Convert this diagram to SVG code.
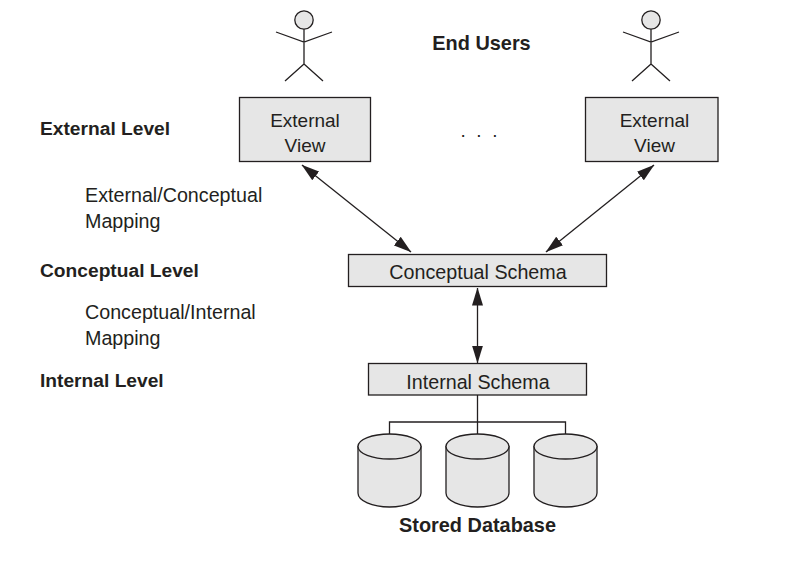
<svg xmlns="http://www.w3.org/2000/svg" width="791" height="565" viewBox="0 0 791 565">
<style>
text{font-family:"Liberation Sans",Arial,sans-serif;fill:#231f20}
.b{font-weight:bold;font-size:19.2px}
.bb{font-weight:bold;font-size:19.9px}
.r{font-size:19.7px}
.v{font-size:19px}
.m{text-anchor:middle}
.box{fill:#e6e6e6;stroke:#231f20;stroke-width:1.3}
.l{fill:none;stroke:#231f20;stroke-width:1.3}
.c{fill:#e6e6e6;stroke:#231f20;stroke-width:1.3}
</style>
<defs>
<marker id="a" viewBox="0 0 18 11" refX="17.5" refY="5.5" markerWidth="18" markerHeight="11" markerUnits="userSpaceOnUse" orient="auto-start-reverse"><path d="M0 0L18 5.5L0 11Z" fill="#231f20"/></marker>
<g id="actor"><path class="l" d="M0 9V44M-28 12L0 22L28 12M0 44L-19 61M0 44L19 61"/><circle cx="0" cy="0" r="9.2" class="c"/></g>
<g id="cyl"><path class="c" d="M-31.5 -17.500V29A31.500 14 0 0 0 31.500 29V-17.500Z"/><ellipse cx="0" cy="-17.500" rx="31.500" ry="12.500" class="c"/></g>
</defs>
<rect width="791" height="565" fill="#fff"/>
<g id="connectors">
<path class="l" marker-start="url(#a)" marker-end="url(#a)" d="M302 165L411 252"/>
<path class="l" marker-start="url(#a)" marker-end="url(#a)" d="M654 165L546 252"/>
<path class="l" marker-start="url(#a)" marker-end="url(#a)" d="M477.5 288V363"/>
<path class="l" d="M477.5 395V434M389.5 434V422H565.5V434"/>
</g>
<g id="user-left"><use href="#actor" x="304" y="20"/></g>
<g id="user-right"><use href="#actor" x="651" y="20"/></g>
<g id="end-users"><text class="bb m" x="481.5" y="50">End Users</text></g>
<g id="external-view-left"><rect class="box" x="239.500" y="97.500" width="131" height="64"/><text class="v m" x="305" y="127">External</text><text class="v m" x="305" y="152">View</text></g>
<g id="dots"><text class="v m" x="479" y="137" style="word-spacing:5.4px">. . .</text></g>
<g id="external-view-right"><rect class="box" x="585.500" y="97.500" width="132.500" height="64"/><text class="v m" x="654.500" y="127">External</text><text class="v m" x="654.500" y="152">View</text></g>
<g id="conceptual-schema"><rect class="box" x="348.500" y="254.500" width="258" height="32"/><text class="r m" x="478" y="279">Conceptual Schema</text></g>
<g id="internal-schema"><rect class="box" x="368.500" y="363.500" width="218" height="31.500"/><text class="r m" x="478" y="389">Internal Schema</text></g>
<g id="db1"><use href="#cyl" x="389.500" y="464"/></g>
<g id="db2"><use href="#cyl" x="477.500" y="464"/></g>
<g id="db3"><use href="#cyl" x="565.500" y="464"/></g>
<g id="stored-database"><text class="bb m" x="477.500" y="532">Stored Database</text></g>
<g id="labels">
<text class="b" x="40" y="135">External Level</text>
<text class="r" x="85" y="202">External/Conceptual</text>
<text class="r" x="85" y="228">Mapping</text>
<text class="b" x="40" y="277">Conceptual Level</text>
<text class="r" x="85" y="319">Conceptual/Internal</text>
<text class="r" x="85" y="345">Mapping</text>
<text class="b" x="40" y="387">Internal Level</text>
</g>
</svg>
